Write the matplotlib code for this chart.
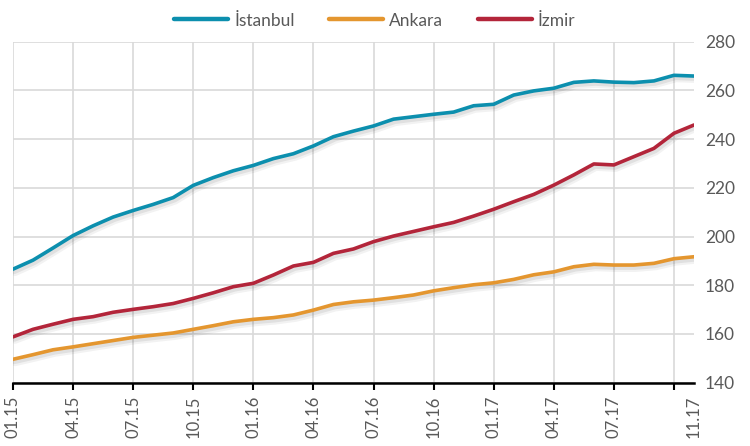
import matplotlib
matplotlib.use("Agg")
import matplotlib.pyplot as plt
import matplotlib.patheffects as pe

# monthly index values, 01.15 - 11.17
istanbul = [186.6, 190.3, 195.3, 200.4, 204.4, 208.0, 210.7, 213.2, 216.0, 221.0,
            224.2, 227.0, 229.2, 232.0, 234.0, 237.2, 241.0, 243.3, 245.4, 248.2,
            249.2, 250.2, 251.1, 253.7, 254.3, 258.1, 259.8, 260.9, 263.3, 263.9,
            263.4, 263.2, 263.9, 266.2, 265.9]
ankara = [149.6, 151.5, 153.5, 154.7, 156.0, 157.3, 158.6, 159.5, 160.4, 161.9,
          163.4, 165.0, 166.0, 166.7, 167.8, 169.8, 172.1, 173.2, 173.9, 174.9,
          176.0, 177.7, 179.0, 180.2, 181.0, 182.4, 184.3, 185.5, 187.6, 188.6,
          188.3, 188.3, 189.0, 190.9, 191.7]
izmir = [158.8, 161.9, 164.0, 166.0, 167.1, 168.9, 170.1, 171.2, 172.5, 174.6,
         176.9, 179.4, 180.8, 184.2, 187.9, 189.4, 193.1, 194.9, 197.9, 200.2,
         202.1, 204.0, 205.8, 208.4, 211.2, 214.3, 217.3, 221.1, 225.3, 229.8,
         229.4, 232.8, 236.2, 242.4, 245.8]
tick_labels = ["01.15", "04.15", "07.15", "10.15", "01.16", "04.16",
               "07.16", "10.16", "01.17", "04.17", "07.17", "11.17"]
names = ["İstanbul", "Ankara", "İzmir"]
colors = ["#0c8fae", "#e4962f", "#b3253a"]

plt.rcParams["font.family"] = ["Lato", "DejaVu Sans"]
grey = "#595959"

fig = plt.figure(figsize=(7.5, 4.46), dpi=100)
ax = fig.add_axes([0.0173, 0.142, 0.908, 0.7645])

x = list(range(len(istanbul)))
# soft shadow under the lines
shadow = [pe.SimpleLineShadow(offset=(1.0, -1.5), shadow_color="black", alpha=0.07, linewidth=4),
          pe.SimpleLineShadow(offset=(1.5, -2.5), shadow_color="black", alpha=0.05, linewidth=5),
          pe.Normal()]
for serie, nome, cor in zip([istanbul, ankara, izmir], names, colors):
    ax.plot(x, serie, color=cor, lw=2.6, label=nome, solid_capstyle="round",
            path_effects=shadow, zorder=3)

ax.set_xlim(0, 34)
ax.set_ylim(140, 280)
ax.set_yticks(range(140, 281, 20))
ax.yaxis.tick_right()
ax.tick_params(axis="y", length=0, labelsize=12.5, labelcolor=grey, pad=8)

# tick marks every 3 months, last label sits at the final point
ax.set_xticks(range(0, 34, 3))
ax.set_xticklabels(tick_labels[:-1] + [""])
ax.set_xticks([34], [tick_labels[-1]], minor=True)
ax.tick_params(axis="x", which="major", length=5, width=1.5, color="black",
               labelsize=12, labelcolor=grey, labelrotation=90, pad=4)
ax.tick_params(axis="x", which="minor", length=0, labelsize=12,
               labelcolor=grey, labelrotation=90, pad=9)

ax.grid(True, which="major", color="#d9d9d9", lw=1.2)
ax.set_axisbelow(True)
for s in ["top", "right", "left"]:
    ax.spines[s].set_visible(False)
ax.spines["bottom"].set_linewidth(1.8)
ax.spines["bottom"].set_color("black")

leg = fig.legend(loc="upper center", bbox_to_anchor=(0.5, 1.007), ncol=3, frameon=False,
                 fontsize=12.5, labelcolor=grey, handlelength=3.1, columnspacing=2.0,
                 handletextpad=0.35)
for h in leg.legend_handles:
    h.set_linewidth(3.2)
    h.set_path_effects([])

fig.savefig("out.png", dpi=100)
